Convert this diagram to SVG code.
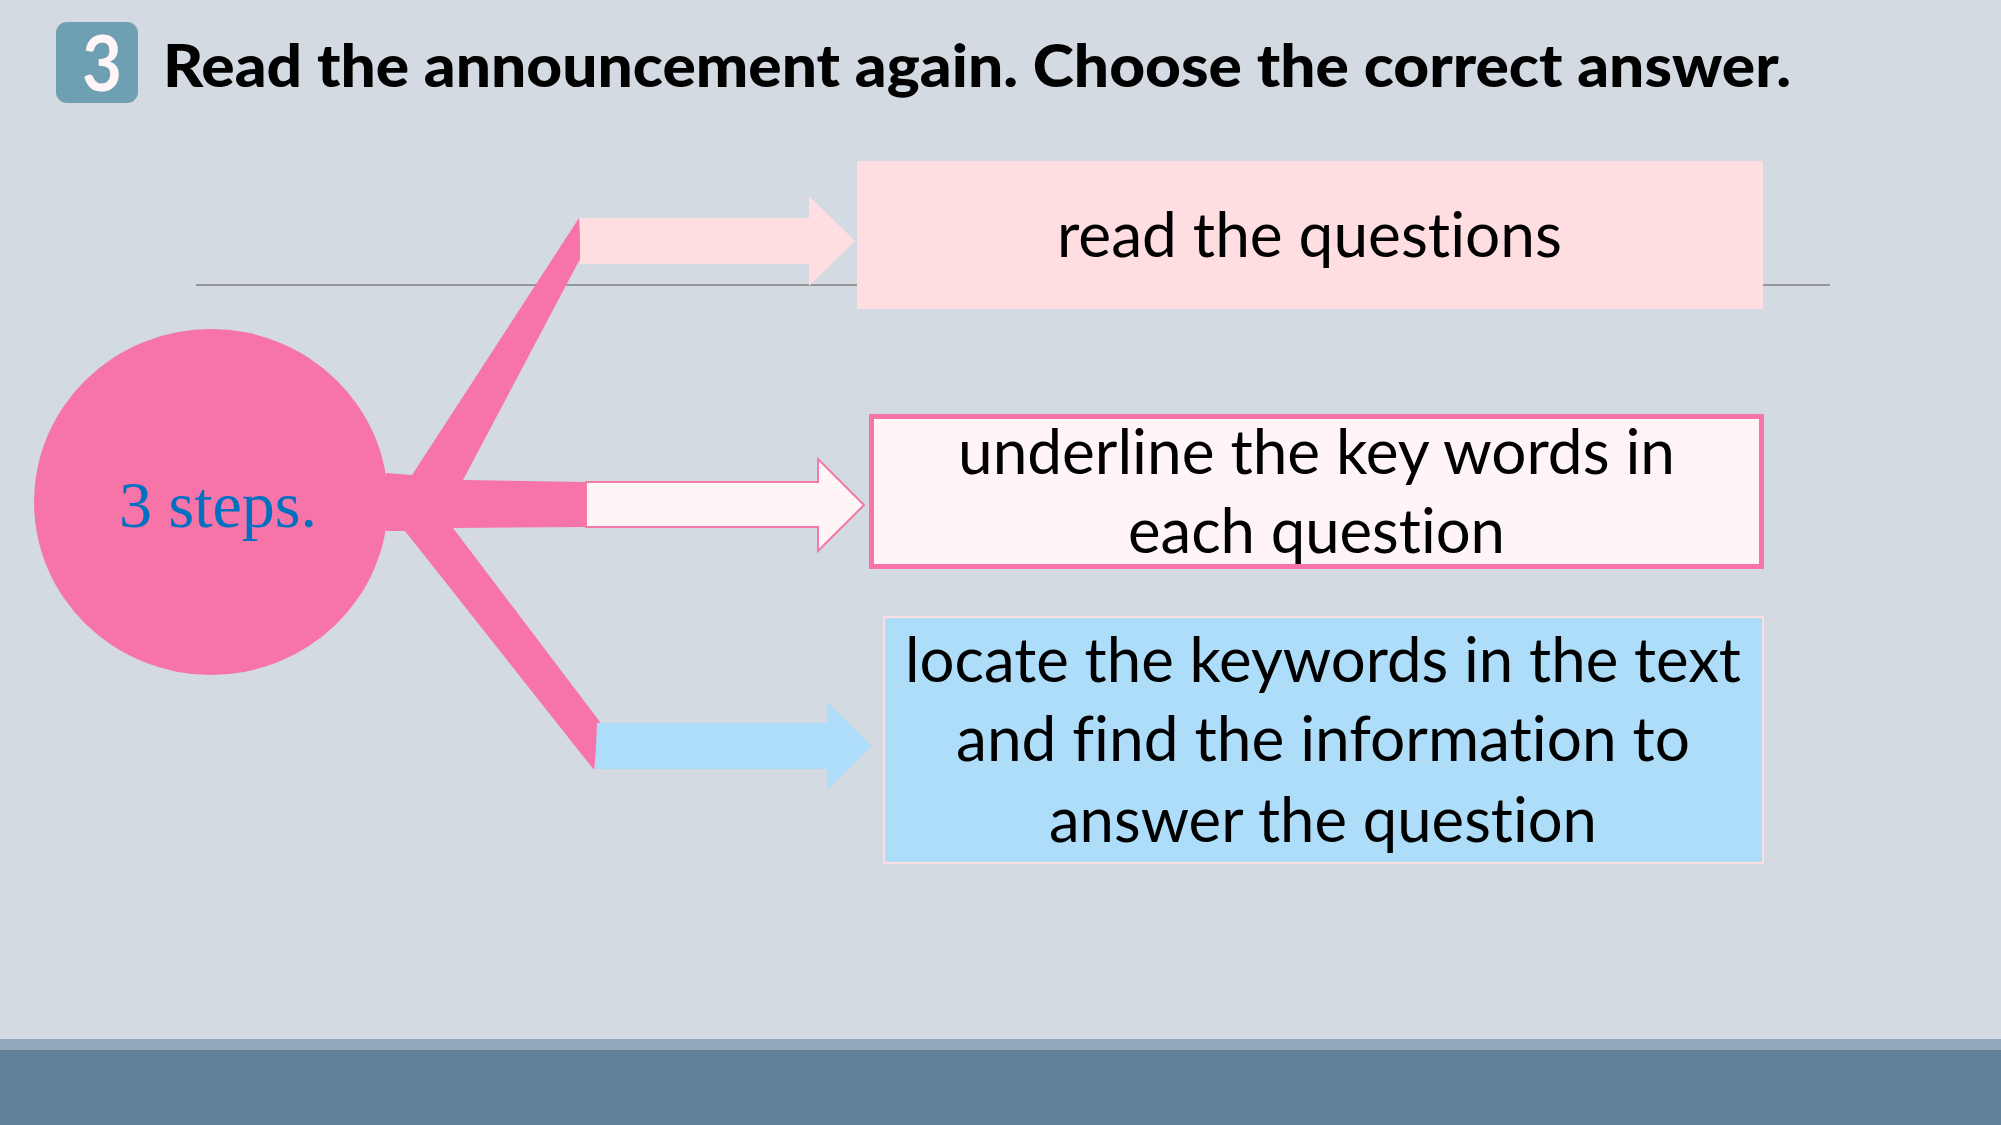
<svg xmlns="http://www.w3.org/2000/svg" width="2001" height="1125" viewBox="0 0 2001 1125">
<style>
text{font-variant-ligatures:none;font-feature-settings:"liga" 0,"clig" 0}
.body{font-family:Lato,"Open Sans","Liberation Sans",sans-serif;font-size:62px;fill:#000;text-anchor:start}
.title{font-family:Lato,"Open Sans","Liberation Sans",sans-serif;font-weight:900;fill:#000}
.pink{fill:#F774A9}
</style>
<rect x="0" y="0" width="2001" height="1125" fill="#D3DAE1"/>
<rect x="0" y="1039" width="2001" height="11" fill="#91A9BA"/>
<rect x="0" y="1050" width="2001" height="75" fill="#61819A"/>

<g id="title">
<rect x="56" y="22" width="82" height="81" rx="11" fill="#6F9FB2"/>
<text x="102" y="91" font-family="Lato,'Open Sans',sans-serif" font-weight="bold" font-size="76" fill="#FFF5F6" text-anchor="middle" textLength="40" lengthAdjust="spacingAndGlyphs">3</text>
<text class="title" x="163" y="87" font-size="59" textLength="1628" lengthAdjust="spacingAndGlyphs">Read the announcement again. Choose the correct answer.</text>
</g>

<line x1="196" y1="285" x2="1830" y2="285" stroke="#7F7F7F" stroke-width="1.3"/>

<g id="connectors">
<polygon class="pink" points="386,473 412,475 579,218 581,257 463,480 586,482 586,527 453,528 600,722 594,770 405,531 386,531"/>
<polygon fill="#FFDEE1" points="580,218 809,218 809,196 855,241 809,286 809,264 580,264"/>
<polygon fill="#FFF5F6" stroke="#F07AA8" stroke-width="2" points="586,482 818,482 818,459 864,505 818,551 818,527 586,527"/>
<polygon fill="#ADDDF9" points="597,723 827,723 827,702 872,746 827,790 827,769 595,769"/>
</g>

<g id="node-center">
<ellipse cx="211" cy="502" rx="177" ry="173" class="pink"/>
<text x="218" y="527" font-family="'Liberation Serif','Times New Roman',serif" font-size="66" fill="#0070C0" text-anchor="middle">3 steps.</text>
</g>

<g id="node-read">
<rect x="857" y="161" width="906" height="148" fill="#FFDEE1"/>
<text class="body" x="1057" y="257" textLength="505" lengthAdjust="spacingAndGlyphs">read the questions</text>
</g>

<g id="node-underline">
<rect x="871.5" y="416.5" width="890" height="150" fill="#FFF5F6" stroke="#F774A9" stroke-width="5"/>
<text class="body" x="958" y="474" textLength="717" lengthAdjust="spacingAndGlyphs">underline the key words in</text>
<text class="body" x="1128" y="553" textLength="377" lengthAdjust="spacingAndGlyphs">each question</text>
</g>

<g id="node-locate">
<rect x="884" y="617" width="879" height="246" fill="#ADDDF9" stroke="#FFDEE1" stroke-width="2"/>
<text class="body" x="905" y="682" textLength="836" lengthAdjust="spacingAndGlyphs">locate the keywords in the text</text>
<text class="body" x="956" y="761" textLength="734" lengthAdjust="spacingAndGlyphs">and find the information to</text>
<text class="body" x="1049" y="842" textLength="548" lengthAdjust="spacingAndGlyphs">answer the question</text>
</g>
</svg>
